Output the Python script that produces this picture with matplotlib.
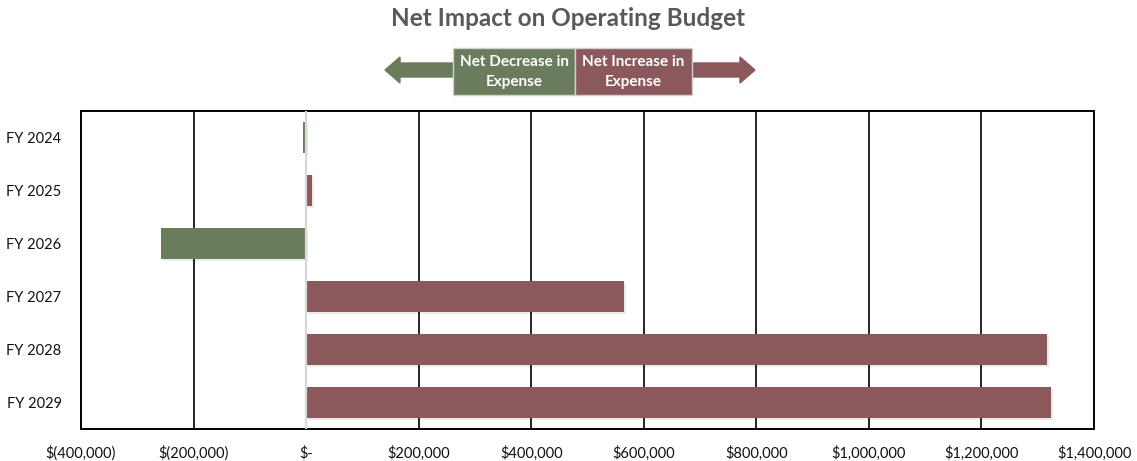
import matplotlib.pyplot as plt
import matplotlib.patheffects as pe
from matplotlib.patches import Rectangle, FancyArrow

plt.rcParams['font.family'] = ['Lato', 'DejaVu Sans']

years = ['FY 2024', 'FY 2025', 'FY 2026', 'FY 2027', 'FY 2028', 'FY 2029']
impact = [-5000, 10000, -258000, 565000, 1317000, 1324000]
xticks = [-400000, -200000, 0, 200000, 400000, 600000, 800000, 1000000, 1200000, 1400000]
xtick_labels = ['$(400,000)', '$(200,000)', '$-', '$200,000', '$400,000', '$600,000',
                '$800,000', '$1,000,000', '$1,200,000', '$1,400,000']

green = '#6b7c5c'
red = '#8b595b'

fig = plt.figure(figsize=(11.37, 4.61), dpi=100)
ax = fig.add_axes([0.0712, 0.0694, 0.891, 0.6898])

colors = [green if v < 0 else red for v in impact]
shadow = [pe.SimplePatchShadow(offset=(1.5, -1.5), shadow_rgbFace='#000000', alpha=0.08), pe.Normal()]
bars = ax.barh(range(len(years)), impact, height=0.6, color=colors, zorder=3)
for b in bars:
    b.set_path_effects(shadow)

ax.set_xlim(-400000, 1400000)
ax.set_ylim(5.5, -0.5)
ax.set_xticks(xticks)
ax.set_xticklabels(xtick_labels, fontsize=10.5, color='#111111')
ax.set_yticks(range(len(years)))
ax.set_yticklabels(years, fontsize=10.5, color='#111111')
ax.tick_params(length=0, pad=12)
ax.tick_params(axis='y', pad=14)

for x in xticks[1:-1]:
    if x == 0:
        ax.axvline(0, color='#d9d9d9', lw=1.6, zorder=4)
    else:
        ax.axvline(x, color='black', lw=1.2, zorder=1)
for s in ax.spines.values():
    s.set_color('black')
    s.set_linewidth(1.4)

fig.text(0.5, 0.96, 'Net Impact on Operating Budget', ha='center', va='center',
         fontsize=17.5, fontweight='bold', color='#595959')

# direction key above the chart
W, H = 1137, 461
def fx(px):
    return px / W
def fy(py):
    return 1 - py / H

fig.add_artist(FancyArrow(fx(453), fy(70), fx(385) - fx(453), 0, width=(fy(63) - fy(77)),
                          head_width=(fy(57) - fy(83)), head_length=fx(15),
                          length_includes_head=True, color=green, transform=fig.transFigure))
fig.add_artist(FancyArrow(fx(692), fy(70), fx(755) - fx(692), 0, width=(fy(63) - fy(77)),
                          head_width=(fy(57) - fy(83)), head_length=fx(15),
                          length_includes_head=True, color=red, transform=fig.transFigure))
fig.add_artist(Rectangle((fx(453), fy(95)), fx(575) - fx(453), fy(48) - fy(95),
                         facecolor=green, edgecolor='#d0d0d0', lw=1, transform=fig.transFigure))
fig.add_artist(Rectangle((fx(575), fy(95)), fx(692) - fx(575), fy(48) - fy(95),
                         facecolor=red, edgecolor='#d0d0d0', lw=1, transform=fig.transFigure))
fig.text(fx(514), fy(72), 'Net Decrease in\nExpense', ha='center', va='center',
         fontsize=11, fontweight='bold', color='white', linespacing=1.6)
fig.text(fx(633), fy(72), 'Net Increase in\nExpense', ha='center', va='center',
         fontsize=11, fontweight='bold', color='white', linespacing=1.6)

fig.savefig('out.png', dpi=100)
